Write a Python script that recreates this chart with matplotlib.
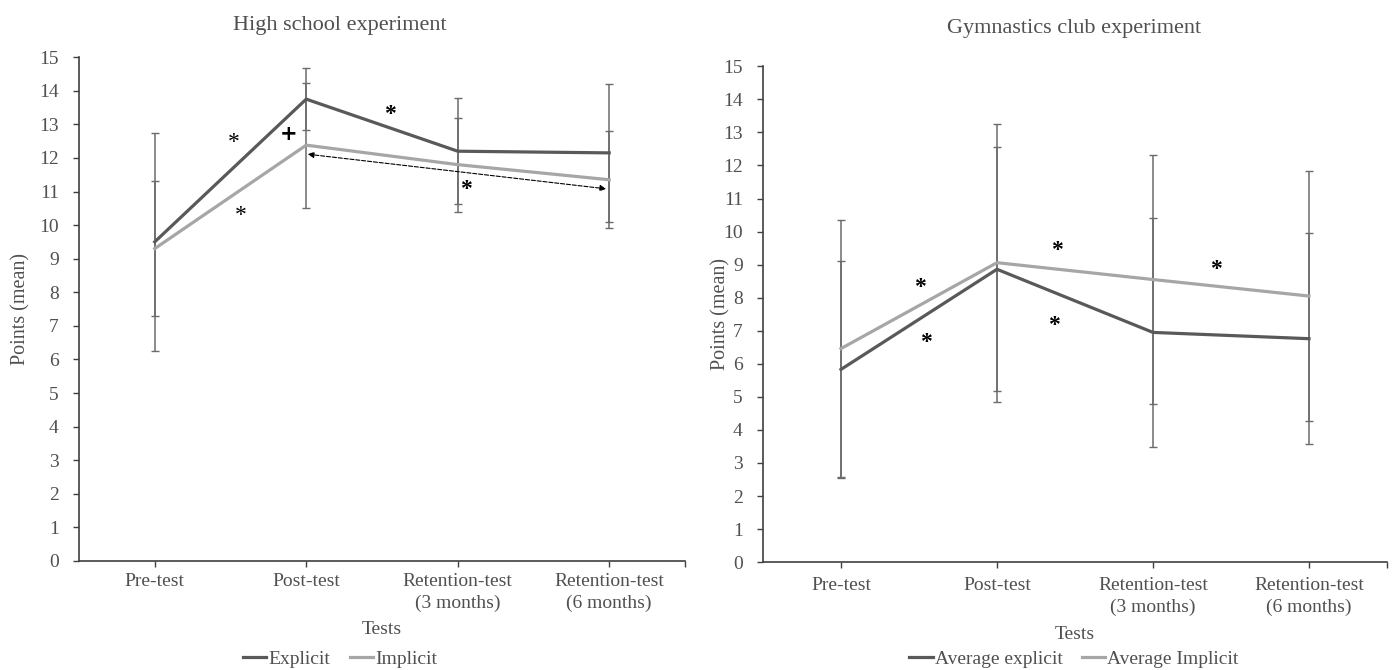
import matplotlib.pyplot as plt

plt.rcParams['font.family'] = ['Liberation Serif', 'DejaVu Serif']

tests = ['Pre-test', 'Post-test', 'Retention-test\n(3 months)', 'Retention-test\n(6 months)']

# High school experiment
hs_explicit = [9.5, 13.75, 12.2, 12.15]
hs_explicit_sd = [3.25, 0.92, 1.58, 2.05]
hs_implicit = [9.3, 12.38, 11.8, 11.35]
hs_implicit_sd = [2.0, 1.86, 1.4, 1.45]

# Gymnastics club experiment
gc_explicit = [5.83, 8.86, 6.95, 6.76]
gc_explicit_sd = [3.29, 3.69, 3.47, 3.2]
gc_implicit = [6.46, 9.06, 8.55, 8.05]
gc_implicit_sd = [3.89, 4.21, 3.77, 3.78]

dark = '#595959'
light = '#a6a6a6'
ebar = '#6b6b6b'
txt = '#505050'

fig = plt.figure(figsize=(13.93, 6.70), dpi=100)
ax1 = fig.add_axes([0.0567, 0.1627, 0.435, 0.752])
ax2 = fig.add_axes([0.5477, 0.161, 0.448, 0.740])

x = range(len(tests))


def draw(ax, e, esd, i, isd, xpad, ylpad, xlpad):
    ax.errorbar(x, e, yerr=esd, color=ebar, elinewidth=1.1, capsize=2.6,
                capthick=1, linestyle='none')
    ax.errorbar(x, i, yerr=isd, color=ebar, elinewidth=1.1, capsize=2.6,
                capthick=1, linestyle='none')
    l1, = ax.plot(x, e, color=dark, linewidth=2.3, zorder=3)
    l2, = ax.plot(x, i, color=light, linewidth=2.3, zorder=3)
    ax.set_xlim(-0.5, 3.5)
    ax.set_ylim(0, 15)
    ax.set_yticks(range(16))
    ax.set_xticks(list(x))
    ax.set_xticks([3.5], minor=True)
    ax.set_xticklabels(tests, linespacing=1.4)
    ax.tick_params(axis='both', which='both', labelsize=14, colors='#404040',
                   labelcolor=txt, length=4.5, width=1, direction='out')
    ax.tick_params(axis='y', pad=10)
    ax.tick_params(axis='x', pad=xpad)
    for s in ['top', 'right']:
        ax.spines[s].set_visible(False)
    for s in ['left', 'bottom']:
        ax.spines[s].set_color('#404040')
        ax.spines[s].set_linewidth(1.2)
    ax.set_ylabel('Points (mean)', fontsize=14.5, color=txt, labelpad=ylpad)
    ax.set_xlabel('Tests', fontsize=14, color=txt, labelpad=xlpad)
    return l1, l2


h1 = draw(ax1, hs_explicit, hs_explicit_sd, hs_implicit, hs_implicit_sd, 4, 6, 6)
h2 = draw(ax2, gc_explicit, gc_explicit_sd, gc_implicit, gc_implicit_sd, 6, -5, 7)

fig.text(0.244, 0.962, 'High school experiment', ha='center', va='center',
         fontsize=16, color=txt)
fig.text(0.771, 0.958, 'Gymnastics club experiment', ha='center', va='center',
         fontsize=16, color=txt)

fig.legend(h1, ['Explicit', 'Implicit'], loc='center', bbox_to_anchor=(0.244, 0.016),
           ncol=2, frameon=False, fontsize=14, handlelength=1.2, handletextpad=0.1,
           columnspacing=1.0, labelcolor=txt, borderpad=0)
fig.legend(h2, ['Average explicit', 'Average Implicit'], loc='center',
           bbox_to_anchor=(0.771, 0.016), ncol=2, frameon=False, fontsize=14,
           handlelength=1.2, handletextpad=0.1, columnspacing=1.0, labelcolor=txt,
           borderpad=0)

# significance marks, high school
ax1.text(0.523, 12.45, '*', ha='center', va='center', fontsize=17)
ax1.text(0.57, 10.3, '*', ha='center', va='center', fontsize=17)
ax1.text(0.886, 12.72, '+', ha='center', va='center', fontsize=15, fontweight='bold',
         family='DejaVu Sans')
ax1.text(1.553, 13.28, '*', ha='center', va='center', fontsize=17, fontweight='bold')
ax1.text(2.055, 11.05, '*', ha='center', va='center', fontsize=17, fontweight='bold')
ax1.annotate('', xy=(2.98, 11.08), xytext=(1.01, 12.11),
             arrowprops=dict(arrowstyle='<|-|>', linestyle='--', color='black',
                             lw=0.8, mutation_scale=9, shrinkA=0, shrinkB=0))

# significance marks, gymnastics club
for px, py in [(0.506, 8.3), (0.545, 6.63), (1.385, 9.42), (1.365, 7.15), (2.404, 8.84)]:
    ax2.text(px, py, '*', ha='center', va='center', fontsize=17, fontweight='bold')

fig.savefig('out.png', dpi=100)
